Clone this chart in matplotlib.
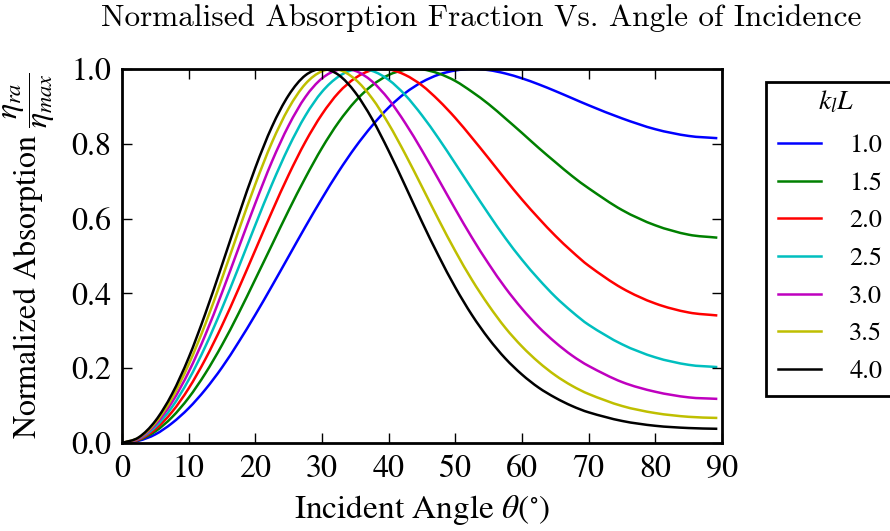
import matplotlib
matplotlib.use("Agg")
import matplotlib.pyplot as plt
from matplotlib.lines import Line2D
from matplotlib.path import Path
from matplotlib.patches import PathPatch

plt.rcParams["mathtext.fontset"] = "stix"
plt.rcParams["font.family"] = ["STIXGeneral", "DejaVu Serif"]

# Incident angle samples (degrees)
theta = [0, 2.5, 5, 7.5, 10, 12.5, 15, 17.5, 20, 22.5, 25, 27.5, 30, 32.5,
         35, 37.5, 40, 42.5, 45, 47.5, 50, 52.5, 55, 57.5, 60, 62.5, 65,
         67.5, 70, 75, 80, 85, 89.3]

# Normalised absorption for each value of k_l L
absorption_kl10 = [0, 0.006, 0.023, 0.053, 0.093, 0.143, 0.202, 0.270, 0.343,
                   0.420, 0.499, 0.578, 0.654, 0.726, 0.791, 0.848, 0.897,
                   0.936, 0.965, 0.985, 0.996, 1.000, 0.997, 0.988, 0.975,
                   0.959, 0.941, 0.922, 0.903, 0.868, 0.839, 0.821, 0.815]
absorption_kl15 = [0, 0.008, 0.031, 0.069, 0.121, 0.186, 0.262, 0.347, 0.438,
                   0.530, 0.622, 0.709, 0.789, 0.858, 0.914, 0.956, 0.984,
                   0.998, 0.999, 0.988, 0.968, 0.939, 0.906, 0.868, 0.829,
                   0.789, 0.751, 0.714, 0.681, 0.623, 0.582, 0.557, 0.549]
absorption_kl20 = [0, 0.009, 0.037, 0.083, 0.146, 0.224, 0.314, 0.413, 0.516,
                   0.619, 0.717, 0.805, 0.879, 0.937, 0.976, 0.997, 0.999,
                   0.984, 0.956, 0.916, 0.869, 0.816, 0.761, 0.705, 0.651,
                   0.601, 0.554, 0.512, 0.474, 0.414, 0.373, 0.349, 0.341]
absorption_kl25 = [0, 0.011, 0.043, 0.096, 0.169, 0.258, 0.360, 0.470, 0.583,
                   0.692, 0.791, 0.875, 0.939, 0.980, 0.999, 0.995, 0.971,
                   0.930, 0.876, 0.814, 0.747, 0.679, 0.612, 0.548, 0.490,
                   0.438, 0.391, 0.351, 0.316, 0.264, 0.229, 0.209, 0.203]
absorption_kl30 = [0, 0.012, 0.049, 0.109, 0.190, 0.289, 0.402, 0.522, 0.641,
                   0.753, 0.849, 0.925, 0.975, 0.998, 0.995, 0.967, 0.919,
                   0.855, 0.782, 0.704, 0.625, 0.549, 0.479, 0.415, 0.359,
                   0.310, 0.269, 0.234, 0.206, 0.163, 0.137, 0.122, 0.118]
absorption_kl35 = [0, 0.014, 0.054, 0.120, 0.210, 0.318, 0.440, 0.568, 0.692,
                   0.804, 0.895, 0.960, 0.994, 0.998, 0.972, 0.922, 0.853,
                   0.772, 0.685, 0.597, 0.513, 0.436, 0.368, 0.308, 0.258,
                   0.216, 0.181, 0.153, 0.131, 0.099, 0.080, 0.070, 0.067]
absorption_kl40 = [0, 0.015, 0.059, 0.131, 0.228, 0.346, 0.476, 0.609, 0.736,
                   0.846, 0.930, 0.983, 1.000, 0.984, 0.937, 0.867, 0.781,
                   0.687, 0.591, 0.500, 0.416, 0.342, 0.279, 0.226, 0.183,
                   0.148, 0.121, 0.099, 0.082, 0.059, 0.046, 0.040, 0.038]

kl_labels = ["1.0", "1.5", "2.0", "2.5", "3.0", "3.5", "4.0"]
series = [absorption_kl10, absorption_kl15, absorption_kl20, absorption_kl25,
          absorption_kl30, absorption_kl35, absorption_kl40]
colors = ["#0000ff", "#008000", "#ff0000", "#00bfbf", "#bf00bf", "#bfbf00",
          "#000000"]

x_ticks = [0, 10, 20, 30, 40, 50, 60, 70, 80, 90]
y_ticks = [0.0, 0.2, 0.4, 0.6, 0.8, 1.0]


def hermite_path(x, y):
    """Smooth cubic Bezier path passing through every (x, y) sample."""
    n = len(x)
    slopes = []
    for i in range(n):
        lo, hi = max(i - 1, 0), min(i + 1, n - 1)
        slopes.append((y[hi] - y[lo]) / (x[hi] - x[lo]))
    verts = [(x[0], y[0])]
    codes = [Path.MOVETO]
    for i in range(n - 1):
        h = x[i + 1] - x[i]
        verts += [(x[i] + h / 3, y[i] + slopes[i] * h / 3),
                  (x[i + 1] - h / 3, y[i + 1] - slopes[i + 1] * h / 3),
                  (x[i + 1], y[i + 1])]
        codes += [Path.CURVE4] * 3
    return Path(verts, codes)


fig = plt.figure(figsize=(8.9, 5.31), dpi=100)
ax = fig.add_axes([122 / 890, 1 - 443 / 531, 600 / 890, 374 / 531])

handles = []
for values, label, color in zip(series, kl_labels, colors):
    ax.add_patch(PathPatch(hermite_path(theta, values), facecolor="none",
                           edgecolor=color, lw=1.8, capstyle="butt"))
    handles.append(Line2D([], [], color=color, lw=1.8, label=label))

ax.set_xlim(0, 90)
ax.set_ylim(0, 1.0)
ax.set_xticks(x_ticks)
ax.set_yticks(y_ticks)
ax.set_xticklabels([str(t) for t in x_ticks])
ax.set_yticklabels([f"{t:.1f}" for t in y_ticks])
ax.tick_params(direction="in", length=7, width=1, labelsize=23,
               top=True, right=True, pad=8)
for spine in ax.spines.values():
    spine.set_linewidth(2)

ax.set_xlabel(r"Incident Angle $\theta\left(^{\circ}\right)$", fontsize=24,
              labelpad=7)
ax.set_ylabel(r"Normalized Absorption $\dfrac{\eta_{ra}}{\eta_{max}}$",
              fontsize=23, labelpad=10)
ax.set_title("Normalised Absorption Fraction Vs. Angle of Incidence",
             fontfamily="cmr10", fontsize=22.5, pad=31, x=0.598)

# legend box runs past the right edge of the figure
legend_top = 1 - 82 / 531
leg = ax.legend(handles=handles, loc="upper left", mode="expand",
                bbox_to_anchor=(766 / 890, legend_top - 0.6, 140 / 890, 0.6),
                bbox_transform=fig.transFigure, borderaxespad=0,
                title=r"$k_l L$", fontsize=19, title_fontsize=20,
                fancybox=False, framealpha=1, edgecolor="black",
                borderpad=0.45, handlelength=1.65, handletextpad=1.06,
                labelspacing=0.5)
leg.get_frame().set_linewidth(2)
# lift the legend heading a little inside its box (display pixels)
leg.get_title().set_position((0, 5))

fig.savefig("out.png", dpi=100)
